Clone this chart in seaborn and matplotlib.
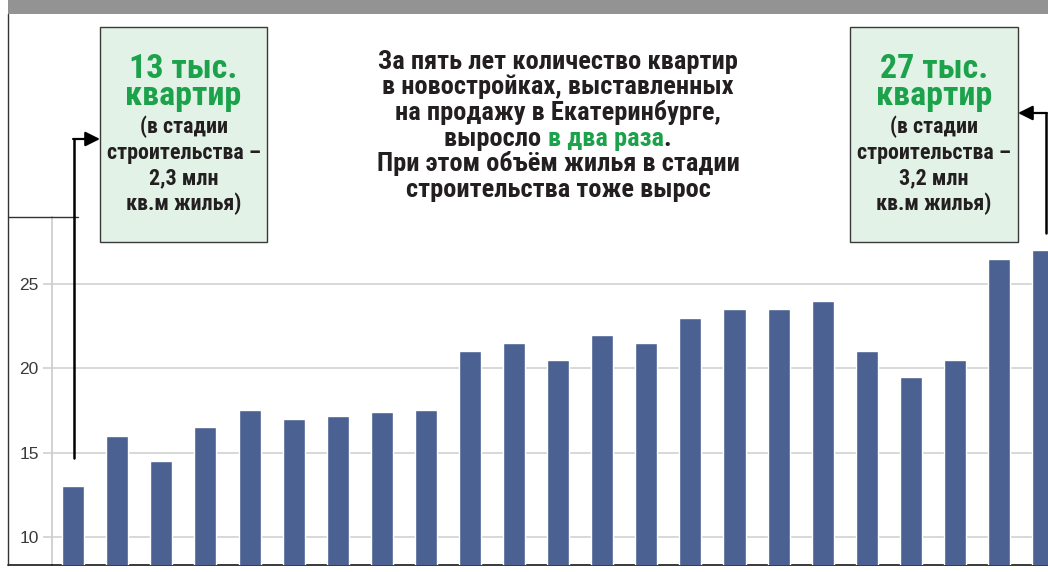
import matplotlib
matplotlib.use("Agg")
import matplotlib.pyplot as plt
import seaborn as sns
import pandas as pd
from matplotlib import font_manager
from matplotlib.font_manager import FontProperties
from matplotlib.patches import Rectangle, FancyArrowPatch
from matplotlib.lines import Line2D

# ---------------- data ----------------
periods = [f"p{i}" for i in range(1, 24)]
flats_k = [13, 16, 14.5, 16.5, 17.5, 17, 17.2, 17.4, 17.5, 21, 21.5, 20.5,
           22, 21.5, 23, 23.5, 23.5, 24, 21, 19.5, 20.5, 26.5, 27]
y_ticks = [10, 15, 20, 25]

left_box_head = ["13 тыс.", "квартир"]
left_box_body = ["(в стадии", "строительства –", "2,3 млн", "кв.м жилья)"]
right_box_head = ["27 тыс.", "квартир"]
right_box_body = ["(в стадии", "строительства –", "3,2 млн", "кв.м жилья)"]
center_lines = [
    [("За пять лет количество квартир", "dark")],
    [("в новостройках, выставленных", "dark")],
    [("на продажу в Екатеринбурге,", "dark")],
    [("выросло ", "dark"), ("в два раза", "green"), (".", "dark")],
    [("При этом объём жилья в стадии", "dark")],
    [("строительства тоже вырос", "dark")],
]

# ---------------- style ----------------
BAR = "#4a6191"
GREEN = "#1ca24b"
DARK = "#231f20"
BOXFILL = "#e2f2e6"
colors = {"dark": DARK, "green": GREEN}

sns.set_theme(style="white")
available = {f.name for f in font_manager.fontManager.ttflist}
def pick(names, default="DejaVu Sans"):
    for n in names:
        if n in available:
            return n
    return default
COND = pick(["Roboto Condensed", "Liberation Sans Narrow", "Roboto"])
REG = pick(["Liberation Sans", "DejaVu Sans"])
plt.rcParams["font.family"] = [REG, "DejaVu Sans"]
CFAM = [COND, "DejaVu Sans"]

W, H = 1048, 572
fig = plt.figure(figsize=(W / 100, H / 100), dpi=100)
fig.patch.set_facecolor("white")

def px(x0, y0, x1, y1):
    return [x0 / W, 1 - y1 / H, (x1 - x0) / W, (y1 - y0) / H]

# ---------------- chart ----------------
ax = fig.add_axes(px(52, 217, 1048, 565))
df = pd.DataFrame({"period": periods, "flats": flats_k})
sns.barplot(data=df, x="period", y="flats", color=BAR, width=0.5,
            saturation=1, ax=ax, zorder=3)
ax.set_xlim(-0.48, 22.11)
ax.set_ylim(8.34, 28.97)
ax.set_yticks(y_ticks)
ax.set_xticks([])
ax.set_xlabel("")
ax.set_ylabel("")
ax.yaxis.grid(True, color="#d6d6d6", linewidth=1.3, zorder=0)
ax.set_axisbelow(True)
for s in ("top", "right"):
    ax.spines[s].set_visible(False)
ax.spines["left"].set_color("#cfcfcf")
ax.spines["left"].set_linewidth(1.3)
ax.spines["bottom"].set_color("#2a2a2a")
ax.spines["bottom"].set_linewidth(1.3)
ax.tick_params(axis="y", which="major", length=6.5, width=1.2, color="#cfcfcf",
               pad=3, labelsize=12.5, labelcolor="#3a3a3a", left=True)

# ---------------- overlay ----------------
ov = fig.add_axes([0, 0, 1, 1], zorder=10)
ov.set_xlim(0, W)
ov.set_ylim(H, 0)
ov.axis("off")
ov.patch.set_alpha(0)

ov.add_patch(Rectangle((8, 0), W - 8, 14, facecolor="#939393", edgecolor="none"))
ov.add_line(Line2D([8, 8], [14, 565], color="#333333", lw=1.0))
ov.add_line(Line2D([8, 52], [565, 565], color="#2a2a2a", lw=1.3))
ov.add_line(Line2D([8, 78], [217, 217], color="#333333", lw=1.0))

for (x0, x1) in [(100, 267), (850, 1018)]:
    ov.add_patch(Rectangle((x0, 27), x1 - x0, 215, facecolor=BOXFILL,
                           edgecolor="#3a3a3a", lw=1.0))

fig.canvas.draw()
renderer = fig.canvas.get_renderer()

def linespacing_for(step_px, size):
    fp = FontProperties(family=CFAM, size=size, weight="bold")
    _, lp_h, lp_d = renderer.get_text_width_height_descent("lp", fp, ismath=False)
    return (step_px - lp_d) / (lp_h - lp_d)

HEAD_SIZE, BODY_SIZE = 24.5, 15.8
HEAD_STEP, BODY_STEP = 27.0, 25.5
head_ls = linespacing_for(HEAD_STEP, HEAD_SIZE)
body_ls = linespacing_for(BODY_STEP, BODY_SIZE)

def box_text(cx, head, body):
    # va="baseline" anchors the last line's baseline
    ov.text(cx, 78 + HEAD_STEP * (len(head) - 1), "\n".join(head),
            ha="center", va="baseline", color=GREEN,
            fontsize=HEAD_SIZE, fontweight="bold", family=CFAM,
            linespacing=head_ls, multialignment="center")
    ov.text(cx, 134 + BODY_STEP * (len(body) - 1), "\n".join(body),
            ha="center", va="baseline", color=DARK,
            fontsize=BODY_SIZE, fontweight="bold", family=CFAM,
            linespacing=body_ls, multialignment="center")

box_text(183.5, left_box_head, left_box_body)
box_text(934, right_box_head, right_box_body)

# arrows
ov.add_line(Line2D([74, 74], [458, 139], color="black", lw=1.8))
ov.add_patch(FancyArrowPatch((73.1, 139), (100, 139), arrowstyle="-|>",
                             mutation_scale=22, color="black", lw=1.6,
                             shrinkA=0, shrinkB=0))
ov.add_line(Line2D([1046, 1046], [233, 113], color="black", lw=1.8))
ov.add_patch(FancyArrowPatch((1046.9, 113), (1018, 113), arrowstyle="-|>",
                             mutation_scale=22, color="black", lw=1.6,
                             shrinkA=0, shrinkB=0))

# center text
cx = 558
CENTER_SIZE = 19
for i, pieces in enumerate(center_lines):
    y = 68.5 + 25.7 * i
    texts = []
    for s, c in pieces:
        t = ov.text(0, y, s, ha="left", va="baseline", color=colors[c],
                    fontsize=CENTER_SIZE, fontweight="bold", family=CFAM)
        texts.append(t)
    widths = [t.get_window_extent(renderer).width for t in texts]
    total = sum(widths)
    x_start_px = cx - total / 2
    acc = 0
    for t, w in zip(texts, widths):
        t.set_x(x_start_px + acc)
        acc += w

fig.savefig("out.png", dpi=100)
